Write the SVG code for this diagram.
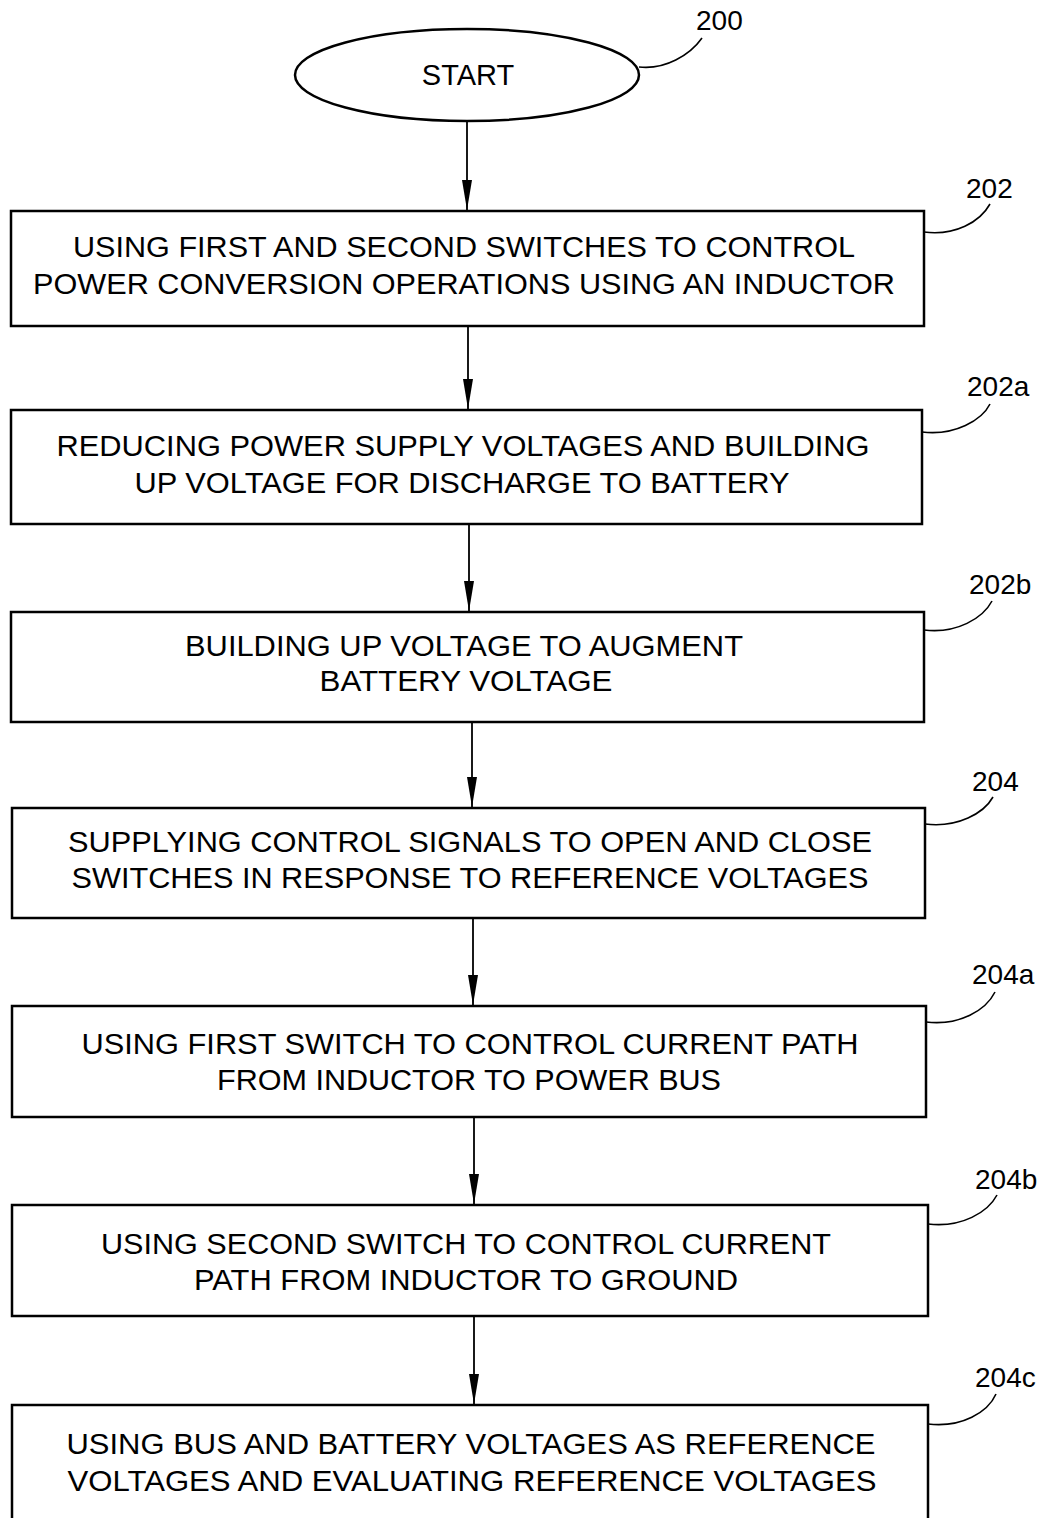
<svg xmlns="http://www.w3.org/2000/svg" width="1046" height="1518" viewBox="0 0 1046 1518">
<style>
.box{fill:#fff;stroke:#000;stroke-width:2.5}
.t{font-family:"Liberation Sans",Arial,sans-serif;font-size:29px;fill:#000;text-anchor:middle}
.ref{font-family:"Liberation Sans",Arial,sans-serif;font-size:28px;fill:#000}
.ld{fill:none;stroke:#000;stroke-width:1.6}
.ar{stroke:#000;stroke-width:1.8;fill:none;marker-end:url(#ah)}
</style>
<defs>
<marker id="ah" markerWidth="30" markerHeight="12" refX="30" refY="6" orient="auto" markerUnits="userSpaceOnUse" viewBox="0 0 30 12">
<path d="M0,1 L30,6 L0,11 Z" fill="#000"/>
</marker>
</defs>
<rect width="1046" height="1518" fill="#fff"/>
<g id="connectors">
<line class="ar" x1="467" y1="122" x2="467" y2="210"/>
<line class="ar" x1="468" y1="326" x2="468" y2="409"/>
<line class="ar" x1="469" y1="524" x2="469" y2="611"/>
<line class="ar" x1="472" y1="722" x2="472" y2="807"/>
<line class="ar" x1="473" y1="918" x2="473" y2="1005"/>
<line class="ar" x1="474" y1="1117" x2="474" y2="1204"/>
<line class="ar" x1="474" y1="1316" x2="474" y2="1404"/>
</g>
<g id="n200">
<ellipse cx="467" cy="75" rx="172" ry="46" fill="#fff" stroke="#000" stroke-width="2.5"/>
<text class="t" x="468" y="85">START</text>
<path class="ld" d="M639,67 C665,70 690,55 702,38"/>
<text class="ref" x="696" y="30">200</text>
</g>
<g id="n202">
<rect class="box" x="11" y="211" width="913" height="115"/>
<text class="t" x="464" y="257" textLength="782" lengthAdjust="spacingAndGlyphs">USING FIRST AND SECOND SWITCHES TO CONTROL</text>
<text class="t" x="464" y="294" textLength="862" lengthAdjust="spacingAndGlyphs">POWER CONVERSION OPERATIONS USING AN INDUCTOR</text>
<path class="ld" d="M924,232 C955,236 980,222 990,204"/>
<text class="ref" x="966" y="198">202</text>
</g>
<g id="n202a">
<rect class="box" x="11" y="410" width="911" height="114"/>
<text class="t" x="463" y="456" textLength="813" lengthAdjust="spacingAndGlyphs">REDUCING POWER SUPPLY VOLTAGES AND BUILDING</text>
<text class="t" x="462" y="493" textLength="655" lengthAdjust="spacingAndGlyphs">UP VOLTAGE FOR DISCHARGE TO BATTERY</text>
<path class="ld" d="M922,432 C955,436 982,420 990,404"/>
<text class="ref" x="967" y="396">202a</text>
</g>
<g id="n202b">
<rect class="box" x="11" y="612" width="913" height="110"/>
<text class="t" x="464" y="656" textLength="558" lengthAdjust="spacingAndGlyphs">BUILDING UP VOLTAGE TO AUGMENT</text>
<text class="t" x="466" y="691" textLength="293" lengthAdjust="spacingAndGlyphs">BATTERY VOLTAGE</text>
<path class="ld" d="M924,630 C957,634 983,618 992,601"/>
<text class="ref" x="969" y="594">202b</text>
</g>
<g id="n204">
<rect class="box" x="12" y="808" width="913" height="110"/>
<text class="t" x="470" y="852" textLength="804" lengthAdjust="spacingAndGlyphs">SUPPLYING CONTROL SIGNALS TO OPEN AND CLOSE</text>
<text class="t" x="470" y="888" textLength="797" lengthAdjust="spacingAndGlyphs">SWITCHES IN RESPONSE TO REFERENCE VOLTAGES</text>
<path class="ld" d="M925,824 C958,828 984,813 993,797"/>
<text class="ref" x="972" y="791">204</text>
</g>
<g id="n204a">
<rect class="box" x="12" y="1006" width="914" height="111"/>
<text class="t" x="470" y="1054" textLength="777" lengthAdjust="spacingAndGlyphs">USING FIRST SWITCH TO CONTROL CURRENT PATH</text>
<text class="t" x="469" y="1090" textLength="504" lengthAdjust="spacingAndGlyphs">FROM INDUCTOR TO POWER BUS</text>
<path class="ld" d="M926,1022 C960,1026 986,1010 995,992"/>
<text class="ref" x="972" y="984">204a</text>
</g>
<g id="n204b">
<rect class="box" x="12" y="1205" width="916" height="111"/>
<text class="t" x="466" y="1254" textLength="730" lengthAdjust="spacingAndGlyphs">USING SECOND SWITCH TO CONTROL CURRENT</text>
<text class="t" x="466" y="1290" textLength="544" lengthAdjust="spacingAndGlyphs">PATH FROM INDUCTOR TO GROUND</text>
<path class="ld" d="M928,1224 C962,1228 988,1212 997,1195"/>
<text class="ref" x="975" y="1189">204b</text>
</g>
<g id="n204c">
<rect class="box" x="12" y="1405" width="916" height="116"/>
<text class="t" x="471" y="1454" textLength="809" lengthAdjust="spacingAndGlyphs">USING BUS AND BATTERY VOLTAGES AS REFERENCE</text>
<text class="t" x="472" y="1491" textLength="809" lengthAdjust="spacingAndGlyphs">VOLTAGES AND EVALUATING REFERENCE VOLTAGES</text>
<path class="ld" d="M928,1424 C962,1428 988,1412 996,1394"/>
<text class="ref" x="975" y="1387">204c</text>
</g>
</svg>
